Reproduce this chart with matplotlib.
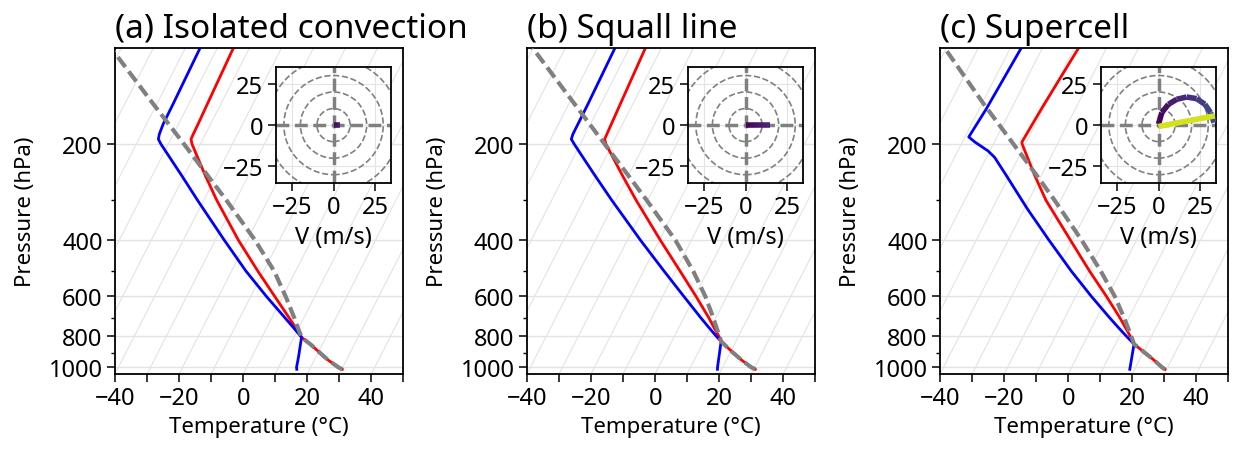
import numpy as np
import matplotlib
matplotlib.use('Agg')
import matplotlib.pyplot as plt
from matplotlib.transforms import Affine2D
from matplotlib.patches import Circle
from matplotlib.collections import LineCollection
from matplotlib.colors import Normalize

plt.rcParams['font.family'] = ['Noto Sans', 'DejaVu Sans']

# ---- soundings (pressure hPa, temperature degC) ----
# (a) isolated convection
p_a_t = [1015, 1000, 950, 900, 850, 806, 750, 700, 600, 500, 400, 300, 250, 200, 193, 186, 173, 150, 100]
t_a = [30.2, 28.6, 24.35, 20.5, 16.5, 12.4, 8.85, 5.4, -2.5, -11.8, -22.8, -35.9, -43.6, -52.6, -53.7,
       -53.8, -53.9, -54.2, -55.0]
p_a_d = [1015, 1000, 950, 900, 850, 806, 750, 700, 600, 500, 400, 300, 250, 200, 193, 186, 173, 150, 100]
td_a = [16.0, 15.6, 14.9, 14.1, 13.2, 12.4, 8.2, 4.1, -5.1, -15.5, -27.2, -41.9, -51.0, -62.3, -63.9,
        -64.4, -64.8, -64.9, -65.4]
p_a_p = [1015, 1000, 950, 900, 850, 806, 750, 700, 600, 500, 400, 300, 250, 200, 150, 100]
tp_a = [30.2, 28.6, 24.35, 20.5, 16.5, 12.4, 9.6, 7.0, 0.9, -6.7, -17.6, -32.9, -42.9, -55.1, -71.0, -93.2]

# (b) squall line
p_b_t = [1015, 1000, 950, 900, 850, 830, 800, 750, 700, 600, 500, 400, 300, 250, 200, 193, 150, 100]
t_b = [30.5, 28.9, 24.8, 20.9, 17.0, 15.4, 13.9, 10.9, 7.8, 0.4, -8.6, -19.7, -33.6, -42.0, -52.0, -53.2,
       -53.9, -55.0]
p_b_d = [1015, 1000, 830, 800, 750, 700, 600, 500, 400, 300, 250, 200, 193, 186, 150, 100]
td_b = [18.7, 18.4, 15.4, 13.1, 9.3, 5.3, -3.4, -13.6, -25.9, -41.2, -50.6, -61.9, -63.6, -63.9, -64.0, -64.5]
p_b_p = [1015, 1000, 950, 900, 850, 830, 800, 750, 700, 600, 500, 400, 300, 250, 200, 150, 100]
tp_b = [30.5, 28.9, 24.8, 20.9, 17.0, 15.4, 14.1, 11.7, 9.2, 3.3, -4.5, -15.0, -30.3, -40.2, -52.4, -68.1, -90.2]

# (c) supercell
p_c_t = [1015, 1000, 950, 900, 846, 800, 750, 700, 600, 500, 400, 300, 250, 200, 197, 155, 100]
t_c = [29.5, 28.2, 24.6, 20.5, 15.8, 13.4, 10.4, 7.2, -0.4, -9.7, -20.6, -34.6, -42.2, -51.0, -51.4, -50.6, -48.7]
p_c_d = [1015, 846, 800, 750, 700, 600, 500, 400, 320, 300, 250, 220, 210, 197, 190, 155, 100]
td_c = [18.5, 15.8, 12.2, 8.2, 4.0, -5.1, -15.4, -27.3, -38.9, -42.1, -51.1, -57.5, -60.6, -66.1, -68.8, -67.8, -66.6]
p_c_p = [1015, 1000, 950, 900, 846, 800, 750, 700, 600, 500, 400, 300, 250, 200, 150, 100]
tp_c = [29.5, 28.2, 24.6, 20.5, 15.8, 13.7, 11.2, 8.5, 2.2, -6.2, -17.1, -31.9, -41.6, -53.7, -69.3, -90.5]

# ---- hodographs (u, v in m/s, height km) ----
hodo_a_u = [0, 1, 2, 3, 4]
hodo_a_v = [0, 0, 0, 0, 0]
hodo_a_z = [0, 0.5, 1.0, 1.5, 2.0]

hodo_b_u = [0, 2.5, 5, 7.5, 10, 12.5, 15]
hodo_b_v = [0, 0, 0, 0, 0, 0, 0]
hodo_b_z = [0, 0.4, 0.8, 1.2, 1.6, 2.0, 2.5]

hodo_c_u = [0, 2, 6, 11, 17, 23, 28, 31.4, 33.5]
hodo_c_v = [0.6, 7.6, 12.6, 15.6, 17, 16, 12.6, 7.6, 1.5]
hodo_c_z = [0, 0.6, 1.2, 1.9, 2.5, 3.1, 3.8, 4.4, 5.0]
hodo_c_top_u = [0, 34]
hodo_c_top_v = [-0.8, 5.6]
hodo_c_top_z = [18.4, 18.8]

titles = ['(a) Isolated convection', '(b) Squall line', '(c) Supercell']
lefts = [115, 527, 940]

W, H = 1233, 456
GRID = '#e3e3e3'
TICKSIZE = 17


def skew_transform(ax, rot=30):
    # skew in axes coordinates, like a standard skew-T
    return ax.transScale + ax.transLimits + Affine2D().skew_deg(rot, 0) + ax.transAxes


def draw_skewt(ax, pt, t, pd, td, pp, tp):
    ax.set_yscale('log')
    ax.set_xlim(-40, 50)
    ax.set_ylim(1050, 100)
    tr = skew_transform(ax)
    piso = [1050, 100]
    for t0 in range(-150, 51, 10):
        ax.plot([t0, t0], piso, color=GRID, lw=0.8, transform=tr, zorder=0.5)
    ax.plot(t, pt, color='red', lw=2.0, transform=tr, zorder=2)
    ax.plot(td, pd, color='blue', lw=2.0, transform=tr, zorder=2)
    ax.plot(tp, pp, color='grey', lw=3.0, ls=(0, (3.0, 1.3)), transform=tr, zorder=3)

    ax.set_yticks([200, 400, 600, 800, 1000])
    ax.set_yticklabels(['200', '400', '600', '800', '1000'])
    ax.set_yticks([300, 500, 700, 900], minor=True)
    ax.yaxis.set_minor_formatter(plt.NullFormatter())
    ax.set_xticks([-40, -20, 0, 20, 40])
    ax.set_xticks([-30, -10, 10, 30, 50], minor=True)
    ax.tick_params(which='major', length=5.5, width=1.1, labelsize=TICKSIZE)
    ax.tick_params(axis='x', which='minor', length=5.5, width=1.1)
    ax.tick_params(axis='y', which='minor', length=3, width=1.0)
    ax.grid(axis='y', which='major', color=GRID, lw=1.0)
    ax.set_axisbelow(True)
    for s in ax.spines.values():
        s.set_linewidth(1.3)
    ax.set_xlabel('Temperature (°C)', fontsize=16)
    ax.set_ylabel('Pressure (hPa)', fontsize=16, labelpad=9)


def draw_hodo(ax, parts):
    ax.set_xlim(-35, 35)
    ax.set_ylim(-35, 35)
    ax.set_xticks([-25, 0, 25])
    ax.set_yticks([-25, 0, 25])
    ax.grid(True, color=GRID, lw=0.8)
    ax.set_axisbelow(True)
    for r in (10, 20, 30, 40):
        ax.add_patch(Circle((0, 0), r, fill=False, ls='--', color='grey', lw=1.2, zorder=1))
    ax.axhline(0, color='grey', ls='--', lw=2.5, zorder=1)
    ax.axvline(0, color='grey', ls='--', lw=2.5, zorder=1)
    norm = Normalize(0, 20)
    for u, v, z in parts:
        pts = np.column_stack([u, v])
        segs = np.stack([pts[:-1], pts[1:]], axis=1)
        zz = np.asarray(z, dtype=float)
        lc = LineCollection(segs, cmap='viridis', norm=norm, linewidth=4, zorder=3)
        lc.set_array(0.5 * (zz[:-1] + zz[1:]))
        ax.add_collection(lc)
    ax.tick_params(length=5.5, width=1.1, labelsize=TICKSIZE)
    for s in ax.spines.values():
        s.set_linewidth(1.3)
    ax.set_xlabel('V (m/s)', fontsize=17)


fig = plt.figure(figsize=(W / 100, H / 100), dpi=100)

profiles = [
    (p_a_t, t_a, p_a_d, td_a, p_a_p, tp_a),
    (p_b_t, t_b, p_b_d, td_b, p_b_p, tp_b),
    (p_c_t, t_c, p_c_d, td_c, p_c_p, tp_c),
]
hodos = [
    [(hodo_a_u, hodo_a_v, hodo_a_z)],
    [(hodo_b_u, hodo_b_v, hodo_b_z)],
    [(hodo_c_u, hodo_c_v, hodo_c_z), (hodo_c_top_u, hodo_c_top_v, hodo_c_top_z)],
]

for i in range(3):
    ax = fig.add_axes([lefts[i] / W, (H - 375) / H, 288.3 / W, 326 / H])
    draw_skewt(ax, *profiles[i])
    ax.set_title(titles[i], loc='left', fontsize=24, pad=8)
    axin = ax.inset_axes([0.557, 0.586, 0.402, 0.355])
    draw_hodo(axin, hodos[i])

fig.savefig('out.png', dpi=100)
